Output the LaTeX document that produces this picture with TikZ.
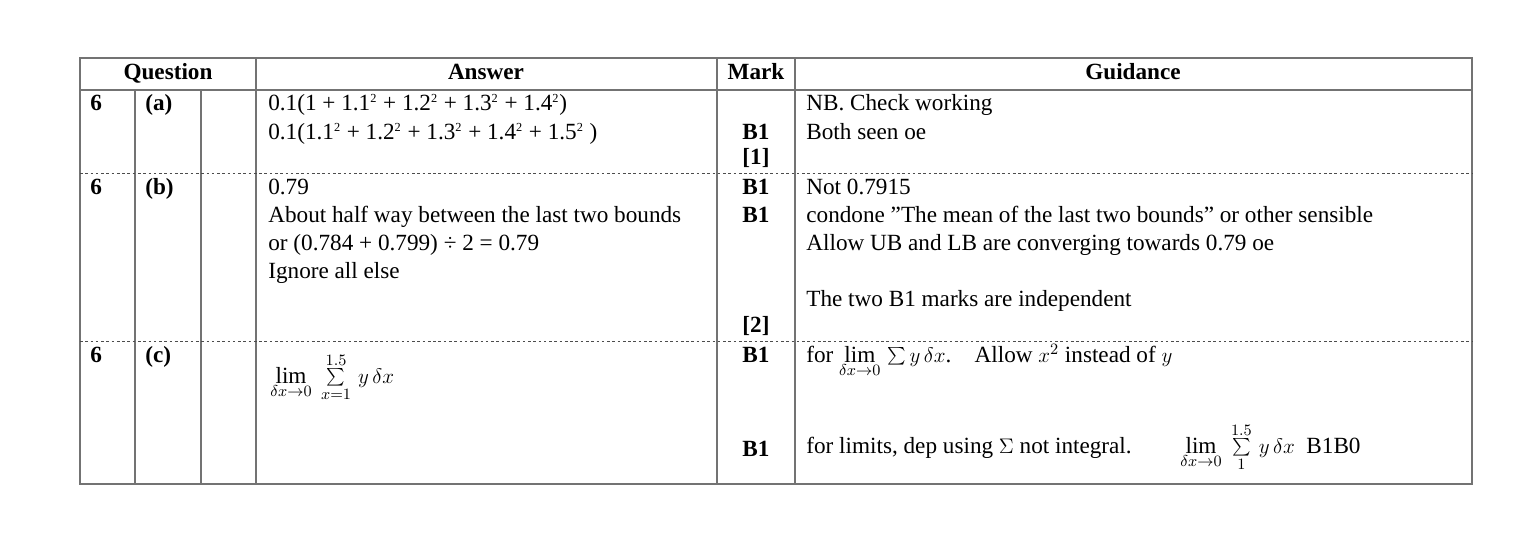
\documentclass[tikz,border=0pt]{standalone}
\usepackage{fontspec}
\setmainfont{Liberation Serif}
\tikzset{
  rule/.style={draw=black!55, line width=0.6pt},
  rowsep/.style={draw=black!70, line width=0.5pt, dash pattern=on 1.5pt off 1.5pt},
  txt/.style={anchor=base west, inner sep=0pt, font=\fontsize{13.2}{15}\selectfont},
  qtxt/.style={anchor=base west, inner sep=0pt, font=\fontsize{13.2}{15}\selectfont\bfseries},
  markbox/.style={anchor=base, inner sep=0pt, font=\fontsize{13.2}{15}\selectfont\bfseries},
  head/.style={anchor=base, inner sep=0pt, font=\fontsize{13.2}{15}\selectfont\bfseries}
}
\newcommand{\sq}[1]{\textsuperscript{\scriptsize #1}}
\begin{document}
\begin{tikzpicture}[x=0.02cm, y=-0.02cm]
  \useasboundingbox (0,0) rectangle (1528,541);
  % grid
  \draw[rule] (80,58) rectangle (1472,484);
  \draw[rule] (80,90) -- (1472,90);
  \foreach \c in {135,201} \draw[rule] (\c,90) -- (\c,484);
  \foreach \c in {256,717,795} \draw[rule] (\c,58) -- (\c,484);
  \foreach \r in {173,341} \draw[rowsep] (80,\r) -- (1472,\r);
  % header
  \node[head] (hq) at (168,79) {Question};
  \node[head] (ha) at (486,79) {Answer};
  \node[head] (hm) at (756,79) {Mark};
  \node[head] (hg) at (1133,79) {Guidance};
  % row a
  \node[qtxt] (qa) at (90,110) {6};
  \node[qtxt] (pa) at (145,110) {(a)};
  \node[txt] (aa1) at (268,110) {0.1(1 + 1.1\sq{2} + 1.2\sq{2} + 1.3\sq{2} + 1.4\sq{2})};
  \node[txt] (aa2) at (268,139) {0.1(1.1\sq{2} + 1.2\sq{2} + 1.3\sq{2} + 1.4\sq{2} + 1.5\sq{2} )};
  \node[markbox] (ma1) at (756,139) {B1};
  \node[markbox] (ma2) at (756,164) {[1]};
  \node[txt] (ga1) at (806,110) {NB. Check working};
  \node[txt] (ga2) at (806,139) {Both seen oe};
  % row b
  \node[qtxt] (qb) at (90,194) {6};
  \node[qtxt] (pb) at (145,194) {(b)};
  \node[txt] (ab1) at (268,194) {0.79};
  \node[txt] (ab2) at (268,222) {About half way between the last two bounds};
  \node[txt] (ab3) at (268,250) {or (0.784 + 0.799) ÷ 2 = 0.79};
  \node[txt] (ab4) at (268,278) {Ignore all else};
  \node[markbox] (mb1) at (756,194) {B1};
  \node[markbox] (mb2) at (756,222) {B1};
  \node[markbox] (mb3) at (756,332) {[2]};
  \node[txt] (gb1) at (806,194) {Not 0.7915};
  \node[txt] (gb2) at (806,222) {condone \symbol{34}The mean of the last two bounds\symbol{34} or other sensible};
  \node[txt] (gb3) at (806,250) {Allow UB and LB are converging towards 0.79 oe};
  \node[txt] (gb4) at (806,306) {The two B1 marks are independent};
  % row c
  \node[qtxt] (qc) at (90,362) {6};
  \node[qtxt] (pc) at (145,362) {(c)};
  \node[txt] (ac) at (270,383) {$\lim\limits_{\delta x\to0}\ \sum\limits_{x=1}^{1.5}\, y\,\delta x$};
  \node[txt] (gc1) at (806,362) {for $\lim\limits_{\delta x\to0}\,\sum y\,\delta x$.\quad Allow $x^2$ instead of $y$};
  \node[markbox] (mc1) at (756,362) {B1};
  \node[markbox] (mc2) at (756,456) {B1};
  \node[txt] (gc2) at (806,453) {for limits, dep using $\Sigma$ not integral.};
  \node[txt] (gc3) at (1180,453) {$\lim\limits_{\delta x\to0}\ \sum\limits_{1}^{1.5}\, y\,\delta x$\ \ B1B0};
\end{tikzpicture}
\end{document}
